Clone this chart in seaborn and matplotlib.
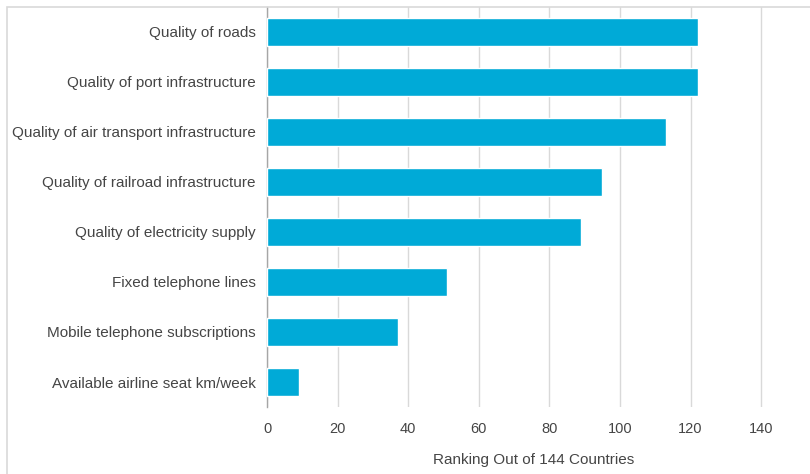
import matplotlib
matplotlib.use("Agg")
import matplotlib.pyplot as plt
import numpy as np
import pandas as pd
import seaborn as sns
from matplotlib.patches import Rectangle

categories = [
    "Quality of roads",
    "Quality of port infrastructure",
    "Quality of air transport infrastructure",
    "Quality of railroad infrastructure",
    "Quality of electricity supply",
    "Fixed telephone lines",
    "Mobile telephone subscriptions",
    "Available airline seat km/week",
]
rankings = [122, 122, 113, 95, 89, 51, 37, 9]
x_ticks = [0, 20, 40, 60, 80, 100, 120, 140]

BAR = "#00AAD7"
TXT = "#454545"

sns.set_style("white")
plt.rcParams["font.family"] = ["Liberation Sans", "DejaVu Sans"]

df = pd.DataFrame({"category": categories, "ranking": rankings})

fig = plt.figure(figsize=(8.1, 4.74), dpi=100)
ax = fig.add_axes([267 / 810, 1 - 407 / 474, 533 / 810, 400 / 474])

sns.barplot(data=df, x="ranking", y="category", color=BAR, width=0.56,
            saturation=1, ax=ax, zorder=3)

ax.set_xlim(0, 151)
ax.set_ylim(len(categories) - 0.5, -0.5)
ax.set_xticks(x_ticks)
ax.set_xticklabels([str(t) for t in x_ticks], fontsize=10.5, color=TXT)
ax.tick_params(axis="x", length=0, pad=11)
ax.tick_params(axis="y", which="major", length=0, pad=8, labelsize=11, labelcolor=TXT)
ax.set_yticks(np.arange(-0.5, len(categories)), minor=True)
ax.tick_params(axis="y", which="minor", length=4, color="#a6a6a6", width=1)

ax.grid(axis="x", color="#d9d9d9", lw=1, zorder=0)
ax.grid(axis="y", visible=False)
for s in ["top", "right", "bottom"]:
    ax.spines[s].set_visible(False)
ax.spines["left"].set_color("#a6a6a6")
ax.spines["left"].set_linewidth(1)

ax.set_ylabel("")
ax.set_xlabel("Ranking Out of 144 Countries", fontsize=11, color=TXT, labelpad=12)

# outer chart-area frame (cropped on the right/bottom in the original)
fig.add_artist(Rectangle((7 / 810, -0.1), 1.2, 1 - 7 / 474 + 0.1,
                         transform=fig.transFigure, fill=False,
                         edgecolor="#d9d9d9", lw=1.2))

plt.savefig("out.png", dpi=100)
plt.close()
